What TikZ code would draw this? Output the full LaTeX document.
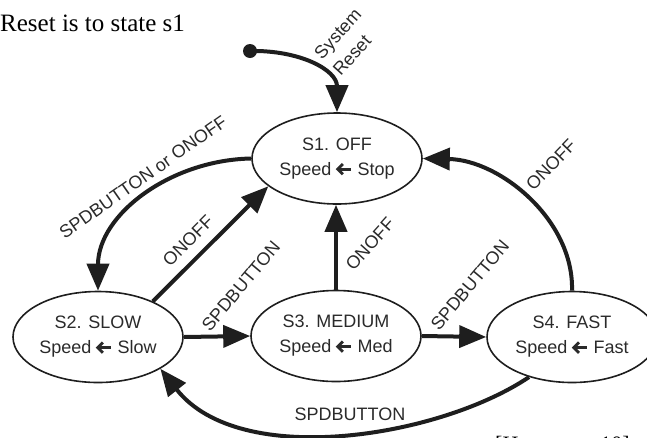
\documentclass[tikz,border=0pt]{standalone}
\usepackage{fontspec}
\setmainfont{Liberation Sans}
\newfontfamily\titlefont{Liberation Serif}
\usetikzlibrary{shapes.geometric,arrows.meta}
\definecolor{ink}{HTML}{1E1E1E}
\definecolor{txt}{HTML}{2A2A2A}
% heavy chevron arrow used as the assignment sign inside the state bubbles
\newcommand{\assign}{\tikz[x=1pt,y=1pt,baseline=-6.3pt]{%
  \draw[draw=txt, line width=2.8pt, line cap=butt, line join=miter]
    (5.6,5.2) -- (0.4,0) -- (5.6,-5.2);
  \draw[draw=txt, line width=2.8pt, line cap=butt] (1.5,0) -- (14,0);}}
\begin{document}
\begin{tikzpicture}[x=1pt,y=-1pt,
  state/.style={ellipse, draw=ink, line width=1.6pt, minimum width=170pt,
    minimum height=91pt, inner sep=0pt, align=center, text=txt,
    font=\fontsize{18}{25}\selectfont},
  trans/.style={draw=ink, line width=4pt, -{Triangle[length=27pt,width=22pt]}},
  lbl/.style={text=txt, inner sep=0pt, font=\fontsize{18}{25}\selectfont}]
\useasboundingbox (0,0) rectangle (647,437);

% heading and (cropped) citation
\node[anchor=base west, inner sep=0pt, font=\titlefont\fontsize{25}{30}\selectfont]
  (title) at (0,31) {Reset is to state s1};
\node[anchor=base west, inner sep=0pt, font=\titlefont\fontsize{22}{26}\selectfont]
  (cite) at (495,451) {[H\hspace{82pt}10]};

% states
\node[state] (s1) at (337,158.5) {S1. OFF\\Speed \assign{} Stop};
\node[state] (s2) at (98,337) {S2. SLOW\\Speed \assign{} Slow};
\node[state] (s3) at (336,336) {S3. MEDIUM\\Speed \assign{} Med};
\node[state] (s4) at (572,337) {S4. FAST\\Speed \assign{} Fast};

% reset entry point
\node[circle, fill=ink, minimum size=14pt, inner sep=0pt] (rst) at (250,51) {};
\draw[trans] (rst.center) .. controls (300,50) and (337,70) .. (s1.north);
\node[lbl, rotate=48, align=left] (lrst) at (347,42) {System\\Reset};

% transitions
\draw[trans] (s1.west) .. controls (170,160) and (98,215) .. (s2.north);
\node[lbl, rotate=35] (l12) at (143,177) {SPDBUTTON or ONOFF};

\draw[trans] (s2.33) -- (s1.202);
\node[lbl, rotate=45] (l21) at (188,241) {ONOFF};

\draw[trans] (s2.east) -- (s3.west);
\node[lbl, rotate=50] (l23) at (241,286) {SPDBUTTON};

\draw[trans] (s3.north) -- (s3.north |- s1.south);
\node[lbl, rotate=48] (l31) at (370,244) {ONOFF};

\draw[trans] (s3.east) -- (s4.west);
\node[lbl, rotate=50] (l34) at (470,285) {SPDBUTTON};

\draw[trans] (s4.north) .. controls (574,220) and (500,160) .. (s1.east);
\node[lbl, rotate=46] (l41) at (551,165) {ONOFF};

\draw[trans] (s4.223) .. controls (440,437) and (240,470) .. (s2.-27);
\node[lbl] (l42) at (350,414) {SPDBUTTON};
\end{tikzpicture}
\end{document}
